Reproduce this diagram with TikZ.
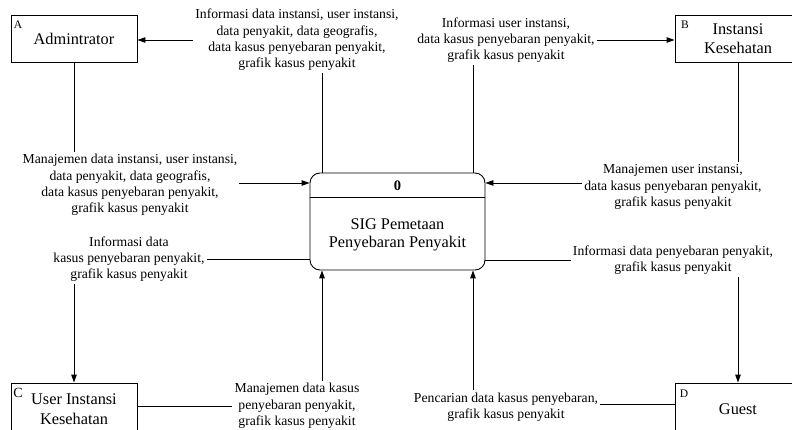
\documentclass[tikz,border=0pt]{standalone}
\usepackage{fontspec}
\setmainfont{Liberation Serif}
\usetikzlibrary{arrows.meta}

\tikzset{
  flow/.style={line width=0.9pt, draw=black},
  arr/.style={flow, -{Triangle[length=8pt,width=5.5pt]}},
  entity/.style={draw=black, line width=0.9pt, minimum width=126pt, minimum height=47pt,
    align=center, inner sep=0pt, font=\fontsize{16.3}{19.5}\selectfont},
  tag/.style={inner sep=0pt, font=\fontsize{11.5}{13}\selectfont},
  flowlabel/.style={align=center, inner sep=2pt, font=\fontsize{13.7}{16.3}\selectfont},
}

\begin{document}
\begin{tikzpicture}[x=1pt, y=-1pt]
  \useasboundingbox (0,0) rectangle (792,430);
  \fill[white] (0,0) rectangle (792,430);

  % columns where the vertical flows meet the process
  \coordinate (xl) at (322,0);
  \coordinate (xr) at (473,0);

  % process 0
  \node[draw=black, line width=0.9pt, rounded corners=10pt, minimum width=175pt,
        minimum height=97pt, inner sep=0pt] (proc) at (397.5,221.5) {};
  \draw[flow] ([yshift=-25pt]proc.north west) -- ([yshift=-25pt]proc.north east);
  \node[font=\fontsize{14.5}{16}\selectfont\bfseries, inner sep=0pt] (pnum) at (397.5,186) {0};
  \node[align=center, inner sep=0pt, font=\fontsize{16.3}{18}\selectfont] (pname) at (397.5,235)
    {SIG Pemetaan\\Penyebaran Penyakit};

  % external entities
  \node[entity] (A) at (74,38.5) {Admintrator};
  \node[tag] (tA) at (18,25) {A};
  \node[entity] (B) at (738,38.5) {Instansi\\Kesehatan};
  \node[tag] (tB) at (685,25) {B};
  \node[entity, minimum height=52pt] (C) at (74,409) {User Instansi\\Kesehatan};
  \node[tag, font=\fontsize{14}{15}\selectfont] (tC) at (18,393) {C};
  \node[entity, minimum height=52pt] (D) at (738,409) {Guest};
  \node[tag] (tD) at (684,394) {D};

  % flow labels
  \node[flowlabel] (lA1) at (297,40)
    {Informasi data instansi, user instansi,\\data penyakit, data geografis,\\data kasus penyebaran penyakit,\\grafik kasus penyakit};
  \node[flowlabel] (lA2) at (130,185)
    {Manajemen data instansi, user instansi,\\data penyakit, data geografis,\\data kasus penyebaran penyakit,\\grafik kasus penyakit};
  \node[flowlabel] (lB1) at (506,40)
    {Informasi user instansi,\\data kasus penyebaran penyakit,\\grafik kasus penyakit};
  \node[flowlabel] (lB2) at (673,187)
    {Manajemen user instansi,\\data kasus penyebaran penyakit,\\grafik kasus penyakit};
  \node[flowlabel] (lC1) at (129,259)
    {Informasi data\\kasus penyebaran penyakit,\\grafik kasus penyakit};
  \node[flowlabel] (lC2) at (297,406)
    {Manajemen data kasus\\penyebaran penyakit,\\grafik kasus penyakit};
  \node[flowlabel] (lD1) at (673,260)
    {Informasi data penyebaran penyakit,\\grafik kasus penyakit};
  \node[flowlabel] (lD2) at (506,407)
    {Pencarian data kasus penyebaran,\\grafik kasus penyakit};

  % process -> Admintrator
  \draw[flow] (proc.north -| xl) -- (lA1.south -| xl);
  \draw[arr] (lA1.west) -- (lA1.west -| A.east);
  % Admintrator -> process
  \draw[flow] (A.south) -- (A.south |- lA2.north);
  \draw[arr] ([yshift=2pt]lA2.east) -- ([yshift=2pt]lA2.east -| proc.west);
  % process -> Instansi Kesehatan
  \draw[flow] (proc.north -| xr) -- (lB1.south -| xr);
  \draw[arr] (lB1.east) -- (lB1.east -| B.west);
  % Instansi Kesehatan -> process
  \draw[flow] (B.south) -- (B.south |- lB2.north);
  \draw[arr] ([yshift=4pt]lB2.west) -- ([yshift=4pt]lB2.west -| proc.east);
  % process -> User Instansi Kesehatan
  \draw[flow] (proc.west |- lC1.east) -- (lC1.east);
  \draw[arr] (C.north |- lC1.south) -- (C.north);
  % User Instansi Kesehatan -> process
  \draw[flow] (C.east |- lC2.west) -- (lC2.west);
  \draw[arr] (lC2.north -| xl) -- (proc.south -| xl);
  % process -> Guest
  \draw[flow] (proc.east |- lD1.west) -- (lD1.west);
  \draw[arr] (D.north |- lD1.south) -- (D.north);
  % Guest -> process
  \draw[flow] ([yshift=3pt]D.west |- lD2.east) -- ([yshift=3pt]lD2.east);
  \draw[arr] (lD2.north -| xr) -- (proc.south -| xr);
\end{tikzpicture}
\end{document}
